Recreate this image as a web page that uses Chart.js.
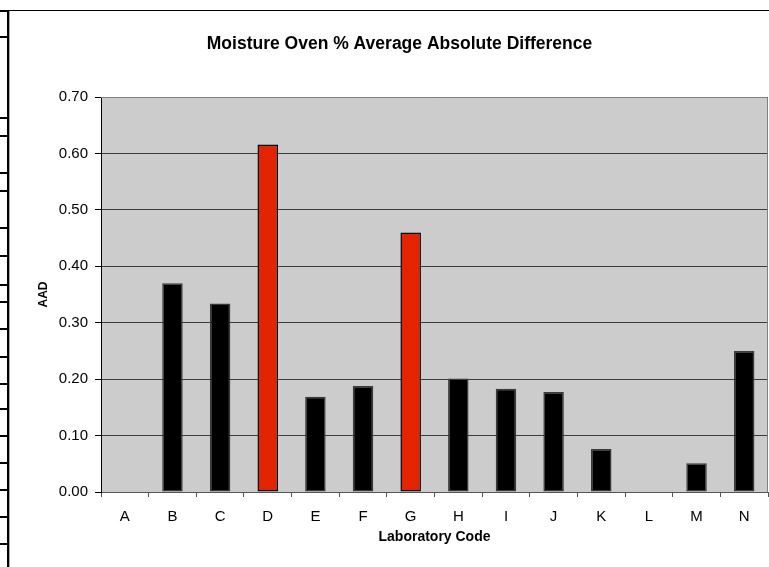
<!DOCTYPE html>
<html>
<head>
<meta charset="utf-8">
<script src="https://cdn.jsdelivr.net/npm/chart.js@4"></script>
<style>
  body { margin: 0; background: #fff; width: 769px; height: 567px; overflow: hidden; position: relative; }
  #wrap { position: absolute; left: 31px; top: 11px; width: 738px; height: 556px; }
  .deco { position: absolute; background: #000; }
</style>
</head>
<body>
<div id="wrap"><canvas id="aad-chart"></canvas></div>
<script>
const labCodes = ['A', 'B', 'C', 'D', 'E', 'F', 'G', 'H', 'I', 'J', 'K', 'L', 'M', 'N'];
const aadValues = [0, 0.370, 0.334, 0.616, 0.169, 0.188, 0.46, 0.201, 0.183, 0.177, 0.076, 0, 0.051, 0.250];
const flagged = ['D', 'G'];
const yTicks = [0, 0.1, 0.2, 0.3, 0.4, 0.5, 0.6, 0.7];

// spreadsheet row edge on the left side of the picture
const rowLines = [10, 36, 117, 135, 172, 190, 227, 255, 284, 301, 328, 356, 383, 408, 435, 462, 489, 516, 543];
function addDeco(l, t, w, h, color) {
  const d = document.createElement('div');
  d.className = 'deco';
  d.style.left = l + 'px'; d.style.top = t + 'px';
  d.style.width = w + 'px'; d.style.height = h + 'px';
  if (color) d.style.background = color;
  document.body.appendChild(d);
}
addDeco(7, 10, 2, 557);
addDeco(9, 11, 1, 556, '#aaa');
addDeco(9, 10, 760, 1);
rowLines.forEach(y => addDeco(0, y, 8, 2));

const font = 'Liberation Sans, Arial, sans-serif';

const plotBackground = {
  id: 'plotBackground',
  beforeDraw(chart) {
    const { ctx, chartArea: a } = chart;
    ctx.save();
    ctx.fillStyle = '#cccccc';
    ctx.fillRect(a.left, a.top, a.right - a.left, a.bottom - a.top);
    ctx.restore();
  },
  afterDatasetsDraw(chart) {
    const { ctx, chartArea: a } = chart;
    ctx.save();
    ctx.strokeStyle = '#808080';
    ctx.lineWidth = 1;
    ctx.beginPath();
    ctx.moveTo(a.left, a.top + 0.5);
    ctx.lineTo(a.right - 0.5, a.top + 0.5);
    ctx.lineTo(a.right - 0.5, a.bottom);
    ctx.stroke();
    ctx.restore();
  }
};

const barColors = labCodes.map(c => flagged.includes(c) ? '#e32400' : '#000000');
const barBorders = labCodes.map(c => flagged.includes(c) ? '#000000' : '#3a3a3a');

new Chart(document.getElementById('aad-chart'), {
  type: 'bar',
  data: {
    labels: labCodes,
    datasets: [{
      label: 'AAD',
      data: aadValues,
      backgroundColor: barColors,
      borderColor: barBorders,
      borderWidth: 1.5,
      borderSkipped: false,
      barPercentage: 0.43,
      categoryPercentage: 1
    }]
  },
  options: {
    responsive: true,
    maintainAspectRatio: false,
    animation: false,
    layout: { padding: { left: 0, right: 1, top: 0, bottom: 0 } },
    plugins: {
      legend: { display: false },
      tooltip: { enabled: false },
      title: {
        display: true,
        text: 'Moisture Oven % Average Absolute Difference',
        color: '#000',
        font: { family: font, size: 17.5, weight: 'bold' },
        padding: { top: 23, bottom: 42 }
      }
    },
    scales: {
      x: {
        afterFit(scale) { scale.height = 75; },
        grid: { offset: true, drawOnChartArea: false, tickLength: 5, color: '#555' },
        border: { color: '#555', width: 1 },
        ticks: { color: '#000', font: { family: font, size: 15 }, padding: 11, maxRotation: 0 },
        title: {
          display: true,
          text: 'Laboratory Code',
          color: '#000',
          font: { family: font, size: 14, weight: 'bold' },
          padding: { top: 0, bottom: 21 }
        }
      },
      y: {
        min: 0,
        max: 0.7,
        afterFit(scale) { scale.width = 70; },
        afterBuildTicks(scale) { scale.ticks = yTicks.map(v => ({ value: v })); },
        grid: { color: '#3c3c3c', lineWidth: 1, tickLength: 6, tickColor: '#000' },
        border: { color: '#000', width: 1 },
        ticks: {
          color: '#000',
          font: { family: font, size: 15 },
          padding: 7,
          callback: v => Number(v).toFixed(2)
        },
        title: {
          display: true,
          text: 'AAD',
          color: '#000',
          font: { family: font, size: 12, weight: 'bold' },
          padding: { top: 5, bottom: 0 }
        }
      }
    }
  },
  plugins: [plotBackground]
});
</script>
</body>
</html>
